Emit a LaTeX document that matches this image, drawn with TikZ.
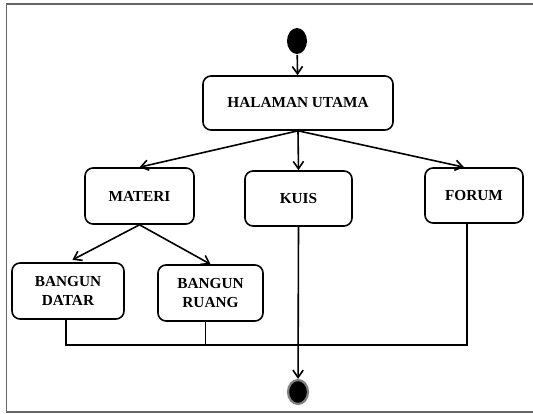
\documentclass[tikz,border=0pt]{standalone}
\usepackage{fontspec}
\setmainfont{Liberation Serif}
\usetikzlibrary{arrows.meta,shapes.geometric}
\begin{document}
\begin{tikzpicture}[>={Straight Barb[length=2.6mm,width=3.6mm]},x=1pt,y=-1pt,line width=1.6pt,
	kotak/.style={draw,rounded corners=8pt,align=center,font=\fontsize{15.3}{19}\selectfont\bfseries},
	titik/.style={ellipse,fill=black,inner sep=0pt}]
			\useasboundingbox (0,0) rectangle (533,414);
			\draw[gray!80!black,line width=1.6pt] (538,4) -- (6.5,4) -- (6.5,412) -- (538,412); % bingkai
			\node[titik,minimum width=20pt,minimum height=26pt] (mulai) at (297,41) {};
			\node[kotak,minimum width=190pt,minimum height=54pt] (utama) at (298,103) {HALAMAN UTAMA};
			\node[kotak,minimum width=109pt,minimum height=56pt] (materi) at (139.5,196) {MATERI};
			\node[kotak,minimum width=107pt,minimum height=55pt] (kuis) at (298.5,198.5) {KUIS};
			\node[kotak,minimum width=98pt,minimum height=55pt] (forum) at (474,195.5) {FORUM};
			\node[kotak,minimum width=112pt,minimum height=56pt] (datar) at (68,291) {BANGUN\\DATAR};
			\node[kotak,minimum width=105pt,minimum height=56pt] (ruang) at (210.5,293) {BANGUN\\RUANG};
			\node[titik,draw=gray,line width=2.2pt,minimum width=20pt,minimum height=24pt] (akhir) at (298,392) {};
			\coordinate (gabung) at (298,345);
			\draw[->] (mulai) -- (utama);
			\draw[->] (utama.south) -- (materi.north);
			\draw[->] (utama.south) -- (kuis.north);
			\draw[->] (utama.south) -- ([xshift=-10pt]forum.north);
			\draw[->,shorten >=5pt] (materi.south) -- (datar.north);
			\draw[->] (materi.south) -- (ruang.north);
			\draw ([xshift=-2pt]datar.south) |- (gabung) -| ([xshift=-7pt]forum.south);
			\draw ([xshift=-5pt]ruang.south) -- ([xshift=-5pt]ruang.south |- gabung);
			\draw[->] (kuis.south) -- (akhir);
	\end{tikzpicture}
\end{document}
